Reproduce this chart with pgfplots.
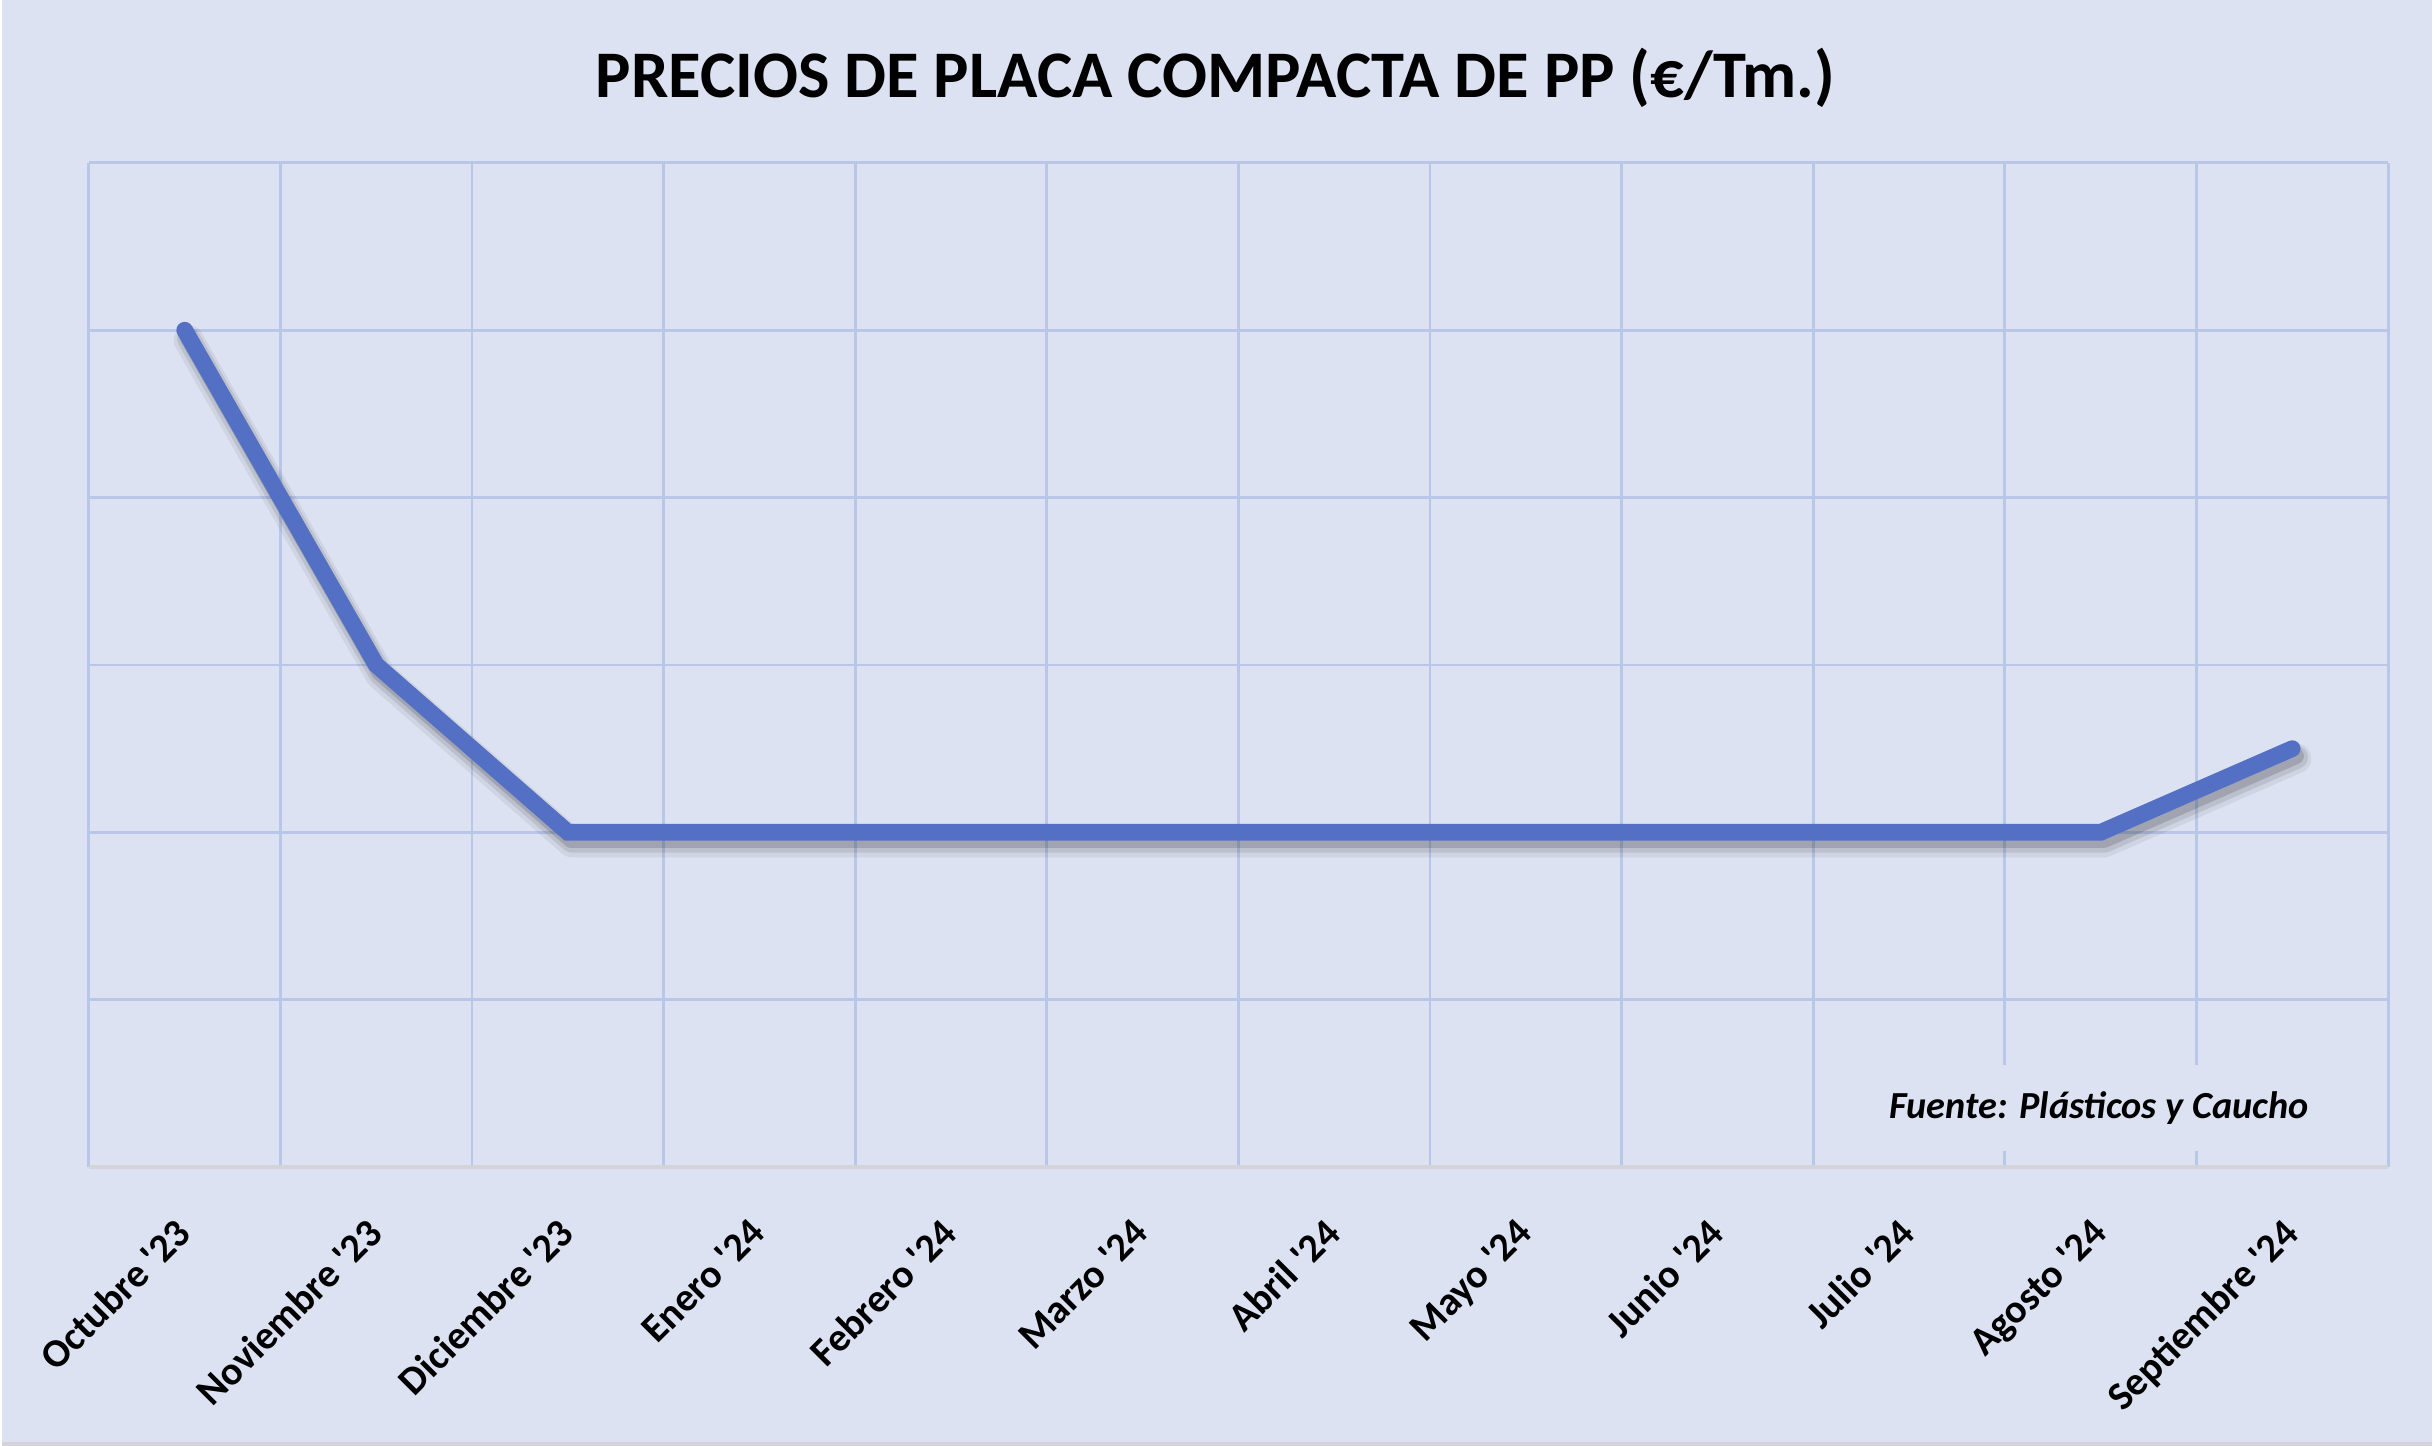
\documentclass[border=0pt]{standalone}
\usepackage{pgfplots}
\pgfplotsset{compat=1.18}
\usepackage{fontspec}
\setmainfont{Carlito}
\definecolor{bgc}{HTML}{DCE2F1}
\definecolor{gridc}{HTML}{B8C6E8}
\definecolor{linec}{HTML}{5470C4}
\definecolor{axc}{HTML}{D4D4D8}
\newcommand{\q}{\textquotesingle}
\pgfplotstableread{
x y
0 5
1 3
2 2
3 2
4 2
5 2
6 2
7 2
8 2
9 2
10 2
11 2.5
}\prices
\begin{document}
\begin{tikzpicture}
\fill[bgc] (-26.1pt,-83.7pt) rectangle (704.1pt,350.7pt);
\draw[axc, line width=1.2pt] (-26.1pt,-83.1pt) -- (704.1pt,-83.1pt);
\begin{axis}[
  at={(0,0)}, anchor=south west,
  width=690.9pt, height=301.8pt, scale only axis,
  xmin=-0.5, xmax=11.5, ymin=0, ymax=6,
  xtick={0,...,11},
  xticklabels={Octubre \q23,Noviembre \q23,Diciembre \q23,Enero \q24,Febrero \q24,Marzo \q24,Abril \q24,Mayo \q24,Junio \q24,Julio \q24,Agosto \q24,Septiembre \q24},
  minor xtick={-0.5,0.5,...,11.5},
  xminorgrids, ymajorgrids,
  ytick={0,...,6}, yticklabels={},
  major tick length=0pt, minor tick length=0pt,
  grid style={gridc, line width=0.85pt},
  minor grid style={gridc, line width=0.85pt},
  axis line style={draw=none},
  xticklabel style={xshift=-3.5pt, yshift=-9.7pt, rotate=45, anchor=north east, font=\fontsize{12}{14}\selectfont\bfseries},
  title={PRECIOS DE PLACA COMPACTA DE PP (€/Tm.)},
  title style={at={(rel axis cs:0.49,1)}, anchor=center, yshift=19.5pt, font=\fontsize{20}{24}\selectfont\bfseries},
  clip=false,
]
\addplot[black, opacity=0.06, line width=9pt, line cap=round, line join=round, shift={(1.2pt,-3pt)}] table {\prices};
\addplot[black, opacity=0.09, line width=7pt, line cap=round, line join=round, shift={(1.2pt,-2.6pt)}] table {\prices};
\addplot[black, opacity=0.14, line width=5pt, line cap=round, line join=round, shift={(1.0pt,-2.2pt)}] table {\prices};
\addplot[linec, line width=5pt, line cap=round, line join=miter] table {\prices};
\draw[axc, line width=1.1pt] (rel axis cs:0,0) -- (rel axis cs:1,0);
\node[anchor=east, fill=bgc, inner xsep=4pt, inner ysep=8pt, font=\fontsize{11.5}{13}\selectfont\bfseries\itshape] at (rel axis cs:0.9715,0.0588) {Fuente: Plásticos y Caucho};
\end{axis}
\end{tikzpicture}
\end{document}
